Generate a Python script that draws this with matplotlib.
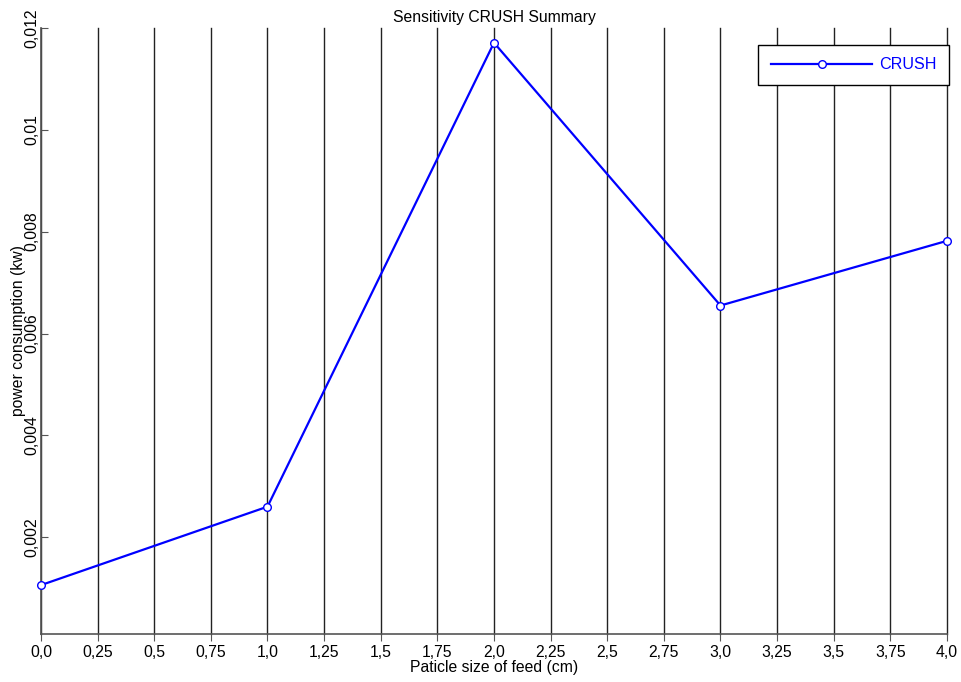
import matplotlib
matplotlib.use("Agg")
import matplotlib.pyplot as plt
import numpy as np

# data
feed_size = [0.0, 1.0, 2.0, 3.0, 4.0]
power_kw = [0.00106, 0.00260, 0.01171, 0.00655, 0.00782]
series_name = "CRUSH"

x_ticks = np.arange(0, 4.01, 0.25)
x_tick_labels = ["0,0", "0,25", "0,5", "0,75", "1,0", "1,25", "1,5", "1,75",
                 "2,0", "2,25", "2,5", "2,75", "3,0", "3,25", "3,5", "3,75", "4,0"]
y_ticks = [0.002, 0.004, 0.006, 0.008, 0.010, 0.012]
y_tick_labels = ["0,002", "0,004", "0,006", "0,008", "0,01", "0,012"]

plt.rcParams["font.family"] = ["Liberation Sans", "DejaVu Sans"]
plt.rcParams["font.size"] = 11.3

fig = plt.figure(figsize=(9.62, 6.82), dpi=100)
ax = fig.add_axes([0.0426, 0.0704, 0.9418, 0.8886])

for xv in x_ticks:
    ax.axvline(xv, color="#222222", lw=1.0, zorder=1, clip_on=False)

ax.plot(feed_size, power_kw, color="#0000ff", lw=1.6, marker="o", markersize=5.5,
        markerfacecolor="white", markeredgecolor="#0000ff", markeredgewidth=1.0,
        label=series_name, zorder=3, clip_on=False)

ax.set_xlim(0, 4)
ax.set_ylim(0.0001, 0.012)
ax.set_xticks(x_ticks)
ax.set_xticklabels(x_tick_labels)
ax.set_yticks(y_ticks)
ax.set_yticklabels(y_tick_labels, rotation=90, va="center")

for side in ["top", "right"]:
    ax.spines[side].set_visible(False)
for side in ["left", "bottom"]:
    ax.spines[side].set_color("#555555")
    ax.spines[side].set_linewidth(1.2)

ax.tick_params(axis="x", direction="out", length=5, color="#555555", pad=3)
ax.tick_params(axis="y", direction="in", length=5, color="#555555", pad=1)

ax.set_title("Sensitivity CRUSH Summary", fontsize=11.3, pad=4)
ax.set_xlabel("Paticle size of feed (cm)", labelpad=0)
ax.set_ylabel("power consumption (kw)")
ax.yaxis.set_label_coords(-0.017, 0.5)

leg = ax.legend(loc="upper right", bbox_to_anchor=(1.0022, 0.972), numpoints=1,
                handlelength=6.3, fancybox=False, framealpha=1, edgecolor="black",
                borderpad=0.78, borderaxespad=0, handletextpad=0.4, fontsize=11.6)
leg.get_frame().set_linewidth(1.0)
for txt in leg.get_texts():
    txt.set_color("#0000ff")

fig.savefig("out.png", dpi=100)
